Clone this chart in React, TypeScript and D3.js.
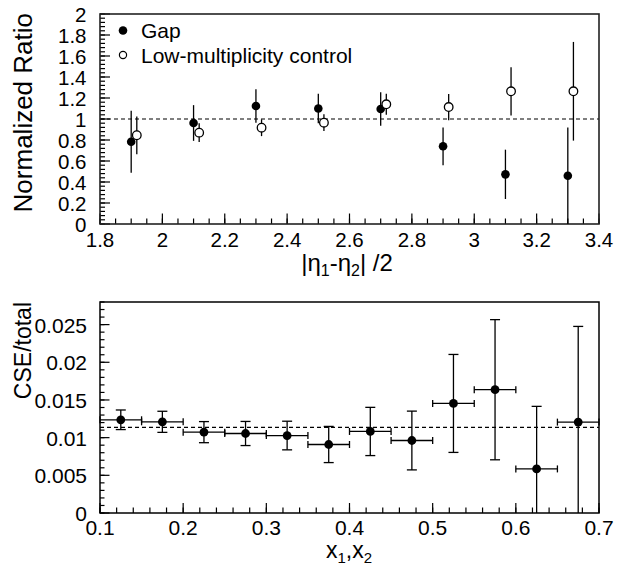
import React from "react";
import * as d3 from "d3";

// ---- Top panel data ----
const gapX = [1.9, 2.1, 2.3, 2.5, 2.7, 2.9, 3.1, 3.3];
const gapY = [0.784, 0.962, 1.124, 1.1, 1.095, 0.74, 0.473, 0.46];
const gapErr = [0.295, 0.17, 0.16, 0.14, 0.16, 0.18, 0.235, 0.46];

const lowX = [1.918, 2.118, 2.318, 2.518, 2.718, 2.918, 3.118, 3.318];
const lowY = [0.845, 0.87, 0.917, 0.965, 1.14, 1.114, 1.264, 1.264];
const lowErr = [0.18, 0.09, 0.08, 0.08, 0.1, 0.125, 0.23, 0.47];

const topXTicks = [1.8, 2, 2.2, 2.4, 2.6, 2.8, 3, 3.2, 3.4];
const topYTicks = [0, 0.2, 0.4, 0.6, 0.8, 1, 1.2, 1.4, 1.6, 1.8, 2];
const topRef = 1;

// ---- Bottom panel data ----
const binLo = [0.1, 0.15, 0.2, 0.25, 0.3, 0.35, 0.4, 0.45, 0.5, 0.55, 0.6, 0.65];
const binHi = [0.15, 0.2, 0.25, 0.3, 0.35, 0.4, 0.45, 0.5, 0.55, 0.6, 0.65, 0.7];
const cseY = [0.01237, 0.0121, 0.01073, 0.01055, 0.01028, 0.00909, 0.01082, 0.00962, 0.01454, 0.01636, 0.00585, 0.01206];
const cseErr = [0.0013, 0.0014, 0.0014, 0.0016, 0.0019, 0.0024, 0.0032, 0.0039, 0.0065, 0.0093, 0.0083, 0.0127];
const botXTicks = [0.1, 0.2, 0.3, 0.4, 0.5, 0.6, 0.7];
const botYTicks = [0, 0.005, 0.01, 0.015, 0.02, 0.025];
const botYLabels = ["0", "0.005", "0.01", "0.015", "0.02", "0.025"];
const botRef = 0.01135;

const FONT = "'Liberation Sans', Arial, Helvetica, sans-serif";

function range(a: number, b: number, step: number) {
  const out: number[] = [];
  const n = Math.round((b - a) / step);
  for (let i = 0; i <= n; i++) out.push(+(a + i * step).toFixed(6));
  return out;
}

export default function App() {
  const L = 100, R = 599;
  const xT = d3.scaleLinear().domain([1.8, 3.4]).range([L, R]);
  const yT = d3.scaleLinear().domain([0, 2]).range([224, 14]);
  const xB = d3.scaleLinear().domain([0.1, 0.7]).range([L, R]);
  const yB = d3.scaleLinear().domain([0, 0.028]).range([513, 302]);

  const topXMinor = range(1.8, 3.4, 0.05);
  const topYMinor = range(0, 2, 0.04);
  const botXMinor = range(0.1, 0.7, 0.02);
  const botYMinor = range(0, 0.028, 0.001);

  const tickFontTop = 20.5;
  const tickFontBot = 21;

  return (
    <svg
      width={626}
      height={567}
      style={{ position: "absolute", left: 0, top: 0, background: "#fff" }}
      fontFamily={FONT}
    >
      <rect x={0} y={0} width={626} height={567} fill="#fff" />

      {/* ================= TOP PANEL ================= */}
      <g>
        <line x1={L} x2={R} y1={yT(topRef)} y2={yT(topRef)} stroke="#000" strokeWidth={1.2} strokeDasharray="4,3" />
        {topXMinor.map((v, i) => (
          <line key={"txm" + i} x1={xT(v)} x2={xT(v)} y1={yT(0)} y2={yT(0) - 5.5} stroke="#000" strokeWidth={1.2} />
        ))}
        {topXTicks.map((v, i) => (
          <line key={"txM" + i} x1={xT(v)} x2={xT(v)} y1={yT(0)} y2={yT(0) - 10.5} stroke="#000" strokeWidth={1.2} />
        ))}
        {topYMinor.map((v, i) => (
          <line key={"tym" + i} x1={L} x2={L + 5} y1={yT(v)} y2={yT(v)} stroke="#000" strokeWidth={1.2} />
        ))}
        {topYTicks.map((v, i) => (
          <line key={"tyM" + i} x1={L} x2={L + 10} y1={yT(v)} y2={yT(v)} stroke="#000" strokeWidth={1.2} />
        ))}
        <rect x={L} y={14} width={R - L} height={224 - 14} fill="none" stroke="#222" strokeWidth={1.6} />
        {topXTicks.map((v, i) => (
          <text key={"txl" + i} x={xT(v)} y={247} textAnchor="middle" fontSize={tickFontTop} fill="#000">
            {String(v)}
          </text>
        ))}
        {topYTicks.map((v, i) => (
          <text key={"tyl" + i} x={86.5} y={yT(v) + 8} textAnchor="end" fontSize={tickFontTop} fill="#000">
            {String(v)}
          </text>
        ))}
        {gapX.map((x, i) => (
          <line key={"ge" + i} x1={xT(x)} x2={xT(x)} y1={yT(Math.max(0, gapY[i] - gapErr[i]))} y2={yT(gapY[i] + gapErr[i])} stroke="#000" strokeWidth={1.3} />
        ))}
        {lowX.map((x, i) => (
          <line key={"le" + i} x1={xT(x)} x2={xT(x)} y1={yT(Math.max(0, lowY[i] - lowErr[i]))} y2={yT(lowY[i] + lowErr[i])} stroke="#000" strokeWidth={1.3} />
        ))}
        {gapX.map((x, i) => (
          <circle key={"gm" + i} cx={xT(x)} cy={yT(gapY[i])} r={4.3} fill="#000" />
        ))}
        {lowX.map((x, i) => (
          <circle key={"lm" + i} cx={xT(x)} cy={yT(lowY[i])} r={4.3} fill="#fff" stroke="#000" strokeWidth={1.3} />
        ))}
        {/* legend */}
        <circle cx={123} cy={30.5} r={4.3} fill="#000" />
        <text x={141} y={37.5} fontSize={21} fill="#000">Gap</text>
        <circle cx={123} cy={55} r={3.6} fill="#fff" stroke="#000" strokeWidth={1.2} />
        <text x={141} y={63} fontSize={21} fill="#000">Low-multiplicity control</text>
        {/* axis titles */}
        <text x={347} y={271} textAnchor="middle" fontSize={24} fill="#000">
          |η<tspan fontSize={16} dy={5}>1</tspan>
          <tspan dy={-5}>-η</tspan>
          <tspan fontSize={16} dy={5}>2</tspan>
          <tspan dy={-5}>| /2</tspan>
        </text>
        <text transform={`translate(32,13) rotate(-90)`} textAnchor="end" fontSize={26} fill="#000">
          Normalized Ratio
        </text>
      </g>

      {/* ================= BOTTOM PANEL ================= */}
      <g>
        <line x1={L} x2={R} y1={yB(botRef)} y2={yB(botRef)} stroke="#000" strokeWidth={1.2} strokeDasharray="4,3" />
        {botXMinor.map((v, i) => (
          <line key={"bxm" + i} x1={xB(v)} x2={xB(v)} y1={yB(0)} y2={yB(0) - 5.5} stroke="#000" strokeWidth={1.2} />
        ))}
        {botXTicks.map((v, i) => (
          <line key={"bxM" + i} x1={xB(v)} x2={xB(v)} y1={yB(0)} y2={yB(0) - 10} stroke="#000" strokeWidth={1.2} />
        ))}
        {botYMinor.map((v, i) => (
          <line key={"bym" + i} x1={L} x2={L + 4.5} y1={yB(v)} y2={yB(v)} stroke="#000" strokeWidth={1.2} />
        ))}
        {botYTicks.map((v, i) => (
          <line key={"byM" + i} x1={L} x2={L + 9.5} y1={yB(v)} y2={yB(v)} stroke="#000" strokeWidth={1.2} />
        ))}
        <rect x={L} y={302} width={R - L} height={513 - 302} fill="none" stroke="#000" strokeWidth={1.5} />
        {botXTicks.map((v, i) => (
          <text key={"bxl" + i} x={xB(v)} y={535} textAnchor="middle" fontSize={tickFontBot} fill="#000">
            {String(v)}
          </text>
        ))}
        {botYTicks.map((v, i) => (
          <text key={"byl" + i} x={87} y={yB(v) + 8} textAnchor="end" fontSize={tickFontBot} fill="#000">
            {botYLabels[i]}
          </text>
        ))}
        {cseY.map((v, i) => {
          const cx = xB((binLo[i] + binHi[i]) / 2);
          const lo = Math.max(0, v - cseErr[i]);
          const hi = v + cseErr[i];
          return (
            <g key={"be" + i} stroke="#000" strokeWidth={1.3}>
              <line x1={xB(binLo[i])} x2={xB(binHi[i])} y1={yB(v)} y2={yB(v)} />
              <line x1={xB(binLo[i])} x2={xB(binLo[i])} y1={yB(v) - 3.5} y2={yB(v) + 3.5} />
              <line x1={xB(binHi[i])} x2={xB(binHi[i])} y1={yB(v) - 3.5} y2={yB(v) + 3.5} />
              <line x1={cx} x2={cx} y1={yB(lo)} y2={yB(hi)} />
              <line x1={cx - 5} x2={cx + 5} y1={yB(hi)} y2={yB(hi)} />
              {lo > 0 && <line x1={cx - 5} x2={cx + 5} y1={yB(lo)} y2={yB(lo)} />}
            </g>
          );
        })}
        {cseY.map((v, i) => (
          <circle key={"bm" + i} cx={xB((binLo[i] + binHi[i]) / 2)} cy={yB(v)} r={4.4} fill="#000" />
        ))}
        <text x={349} y={558} textAnchor="middle" fontSize={23} fill="#000">
          x<tspan fontSize={15} dy={5}>1</tspan>
          <tspan dy={-5}>,x</tspan>
          <tspan fontSize={15} dy={5}>2</tspan>
        </text>
        <text transform={`translate(31,302) rotate(-90)`} textAnchor="end" fontSize={23} fill="#000">
          CSE/total
        </text>
      </g>
    </svg>
  );
}
